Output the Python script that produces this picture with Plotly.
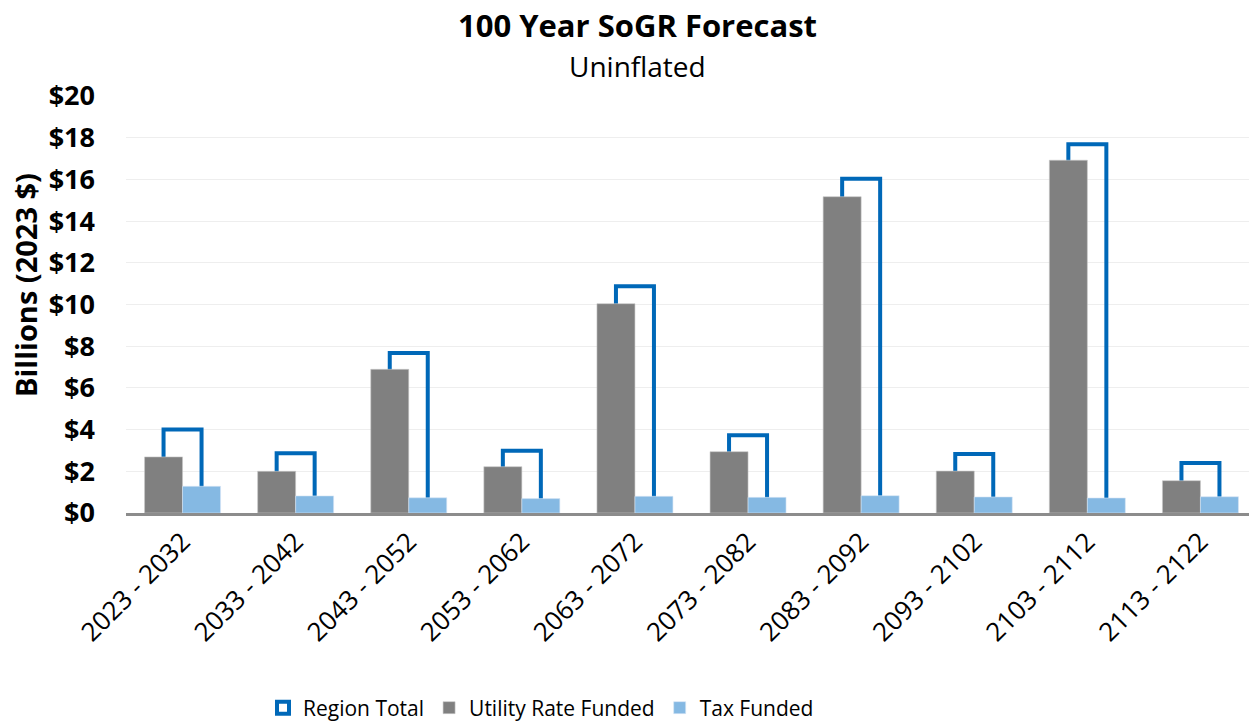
import plotly.graph_objects as go

categories = ["2023 - 2032", "2033 - 2042", "2043 - 2052", "2053 - 2062", "2063 - 2072",
              "2073 - 2082", "2083 - 2092", "2093 - 2102", "2103 - 2112", "2113 - 2122"]
utility_rate_funded = [2.69, 2.00, 6.89, 2.22, 10.04, 2.94, 15.17, 2.01, 16.92, 1.55]
tax_funded = [1.28, 0.82, 0.73, 0.69, 0.80, 0.75, 0.83, 0.77, 0.72, 0.78]
region_total = [4.01, 2.86, 7.67, 2.99, 10.87, 3.73, 16.03, 2.83, 17.68, 2.40]
y_tick_values = [0, 2, 4, 6, 8, 10, 12, 14, 16, 18, 20]
y_tick_labels = ["$0", "$2", "$4", "$6", "$8", "$10", "$12", "$14", "$16", "$18", "$20"]

FONT = "Open Sans"
W = 0.336
OFF = 8  # page body margin offsets the figure by 8px
FW, FH = 1257 - OFF, 727 - OFF
L, R, T = 126 - OFF, 0, 96 - OFF
B = FH - (513 - OFF)
PW, PH = FW - L - R, FH - T - B


def px_to_paper_x(px):
    return (px - OFF - L) / PW


def px_to_paper_y(py):
    return (FH - B - (py - OFF)) / PH


fig = go.Figure()
fig.add_trace(go.Bar(
    name="Region Total", x=categories, y=region_total,
    offset=-W / 2, width=W,
    marker=dict(color="rgba(0,0,0,0)", line=dict(color="#0068B8", width=4)),
))
fig.add_trace(go.Bar(
    name="Utility Rate Funded", x=categories, y=utility_rate_funded,
    offset=-W, width=W,
    marker=dict(color="#808080", line=dict(color="#C8C8C8", width=0.6)),
))
fig.add_trace(go.Bar(
    name="Tax Funded", x=categories, y=tax_funded,
    offset=0, width=W,
    marker=dict(color="#85B9E3", line=dict(color="#D6E6F5", width=0.6)),
))

fig.update_layout(
    width=FW, height=FH,
    barmode="overlay",
    plot_bgcolor="white", paper_bgcolor="white",
    margin=dict(l=L, r=R, t=T, b=B),
    font=dict(family=FONT, color="black"),
    title=dict(text="<b>100 Year SoGR Forecast</b>", x=(637.5 - OFF) / FW, xref="container",
               xanchor="center", y=1 - (26 - OFF) / FH, yref="container", yanchor="middle",
               font=dict(family=FONT, size=31, color="black")),
    annotations=[
        dict(text="Uninflated", x=px_to_paper_x(637.5), xref="paper", xanchor="center",
             y=px_to_paper_y(66), yref="paper", yanchor="middle", showarrow=False,
             font=dict(family=FONT, size=28, color="black")),
        dict(text="<b>Billions (2023 $)</b>", textangle=-90, x=px_to_paper_x(25), xref="paper",
             xanchor="center", y=px_to_paper_y(285), yref="paper", yanchor="middle",
             showarrow=False, font=dict(family=FONT, size=29, color="black")),
    ],
    legend=dict(orientation="h", x=(541 - OFF) / FW, xref="container", xanchor="center",
                y=(727 - 708) / FH, yref="container", yanchor="middle",
                font=dict(family=FONT, size=21, color="black"),
                traceorder="normal"),
    showlegend=True,
    xaxis=dict(
        tickangle=-45, tickfont=dict(family=FONT, size=26, color="black"),
        showline=True, linecolor="#8C8C8C", linewidth=3, showgrid=False,
        ticks="", automargin=False,
    ),
    yaxis=dict(
        range=[0, 20], tickmode="array", tickvals=y_tick_values, ticktext=y_tick_labels,
        tickfont=dict(family=FONT, size=27, color="black", weight="bold"),
        showgrid=True, gridcolor="#EEEEEE", gridwidth=1,
        zeroline=False, showline=False, ticks="", ticklabelstandoff=30,
        automargin=False,
    ),
)

fig.write_html("out.html")
